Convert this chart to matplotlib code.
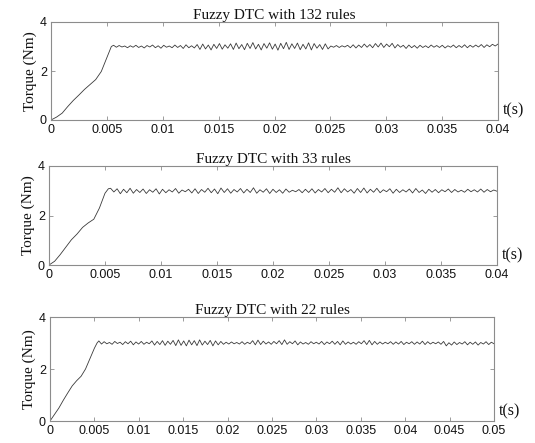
import numpy as np
import matplotlib
matplotlib.use("Agg")
import matplotlib.pyplot as plt

# ---------------- data ----------------
titles = ["Fuzzy DTC with 132 rules", "Fuzzy DTC with 33 rules", "Fuzzy DTC with 22 rules"]
x_max = [0.04, 0.04, 0.05]
x_ticks_1 = [0, 0.005, 0.01, 0.015, 0.02, 0.025, 0.03, 0.035, 0.04]
x_labels_1 = ["0", "0.005", "0.01", "0.015", "0.02", "0.025", "0.03", "0.035", "0.04"]
x_ticks_3 = [0, 0.005, 0.01, 0.015, 0.02, 0.025, 0.03, 0.035, 0.04, 0.045, 0.05]
x_labels_3 = ["0", "0.005", "0.01", "0.015", "0.02", "0.025", "0.03", "0.035", "0.04", "0.045", "0.05"]
y_ticks = [0, 2, 4]
y_labels = ["0", "2", "4"]

# ramp-up part (time, torque)
ramp_t_1 = [0, 0.0005, 0.001, 0.0015, 0.002, 0.0025, 0.003, 0.0035, 0.004, 0.0045, 0.005, 0.0054]
ramp_v_1 = [0, 0.12, 0.28, 0.55, 0.80, 1.02, 1.25, 1.45, 1.65, 1.98, 2.55, 3.00]
ramp_t_2 = [0, 0.0005, 0.001, 0.0015, 0.002, 0.0025, 0.003, 0.0035, 0.004, 0.0045, 0.005, 0.0053]
ramp_v_2 = [0, 0.15, 0.42, 0.72, 1.02, 1.25, 1.52, 1.70, 1.85, 2.30, 2.90, 3.08]
ramp_t_3 = [0, 0.0005, 0.001, 0.0015, 0.002, 0.0025, 0.003, 0.0035, 0.004, 0.0045, 0.005, 0.0053]
ramp_v_3 = [0, 0.25, 0.50, 0.80, 1.08, 1.35, 1.55, 1.72, 2.00, 2.40, 2.80, 3.00]

# steady-state ripple (uniformly sampled from end of ramp to end of axis)
steady_1 = [
    3.05, 2.97, 3.04, 2.98, 3.02, 2.95, 3.03, 2.97, 3.05, 2.96,
    3.02, 2.94, 3.04, 2.98, 3.06, 2.95, 3.03, 2.93, 3.05, 2.97,
    3.02, 2.95, 3.06, 2.96, 3.04, 2.92, 3.07, 2.95, 3.03, 2.94,
    3.08, 2.88, 3.10, 2.90, 3.06, 2.86, 3.09, 2.92, 3.12, 2.89,
    3.07, 2.93, 3.11, 2.88, 3.14, 2.91, 3.08, 2.87, 3.13, 2.92,
    3.16, 2.90, 3.09, 2.86, 3.12, 2.93, 3.15, 2.89, 3.10, 2.85,
    3.13, 2.91, 3.17, 2.88, 3.11, 2.92, 3.14, 2.87, 3.09, 2.90,
    3.15, 2.86, 3.12, 2.93, 3.08, 2.88, 3.11, 2.90,
    3.02, 2.97, 3.04, 2.96, 3.03, 2.98, 3.05, 2.95, 3.07, 2.94,
    3.06, 2.96, 3.10, 2.97, 3.08, 2.95, 3.12, 2.98, 3.14, 2.96,
    3.10, 2.99, 3.13, 2.94, 3.08, 2.97, 3.05, 2.92, 3.06, 2.95,
    3.04, 2.93, 3.05, 2.96, 3.03, 2.95, 3.06, 2.97, 3.04, 2.96,
    3.05, 2.94, 3.03, 2.97, 3.06, 2.95, 3.04, 2.96, 3.07, 2.95,
    3.05, 2.97, 3.06, 2.98, 3.08, 2.96, 3.07, 2.99, 3.09, 3.02, 3.10,
]
steady_2 = [
    3.10, 2.95, 3.08, 2.88, 3.06, 2.92, 3.10, 2.90, 3.05, 2.93,
    3.07, 2.89, 3.04, 2.94, 3.08, 2.87, 3.06, 2.92, 3.04, 2.95,
    3.09, 2.90, 3.03, 2.96, 3.06, 2.91, 3.08, 2.89, 3.05, 2.94,
    3.10, 2.92, 3.07, 2.88, 3.11, 2.93, 3.08, 2.90, 3.05, 2.95,
    3.09, 2.91, 3.06, 2.93, 3.12, 2.90, 3.04, 2.94, 3.08, 2.89,
    3.06, 2.93, 3.04, 2.90, 3.07, 2.94, 3.02, 2.96, 3.05, 2.92,
    3.06, 2.93, 3.08, 2.91, 3.05, 2.95, 3.09, 2.92, 3.06, 2.94,
    3.12, 2.92, 3.08, 2.95, 3.05, 2.90, 3.09, 2.93, 3.11, 2.91,
    3.06, 2.94, 3.10, 2.92, 3.04, 2.96, 3.08, 2.90, 3.06, 2.93,
    3.04, 2.95, 3.07, 2.91, 3.09, 2.93, 3.03, 2.89, 3.06, 2.94,
    3.05, 2.92, 3.04, 2.96, 3.07, 2.93, 3.05, 2.95, 3.02, 2.94,
    3.06, 2.96, 3.04, 2.95, 3.07, 2.94, 3.05, 2.96, 3.03, 2.98,
]
steady_3 = [
    3.08, 2.96, 3.05, 2.97, 3.02, 2.95, 3.06, 2.98, 3.03, 2.94,
    3.05, 2.97, 3.07, 2.93, 3.04, 2.96, 3.06, 2.95, 3.03, 2.97,
    3.08, 2.92, 3.06, 2.94, 3.09, 2.91, 3.07, 2.95, 3.10, 2.90,
    3.12, 2.91, 3.08, 2.89, 3.11, 2.93, 3.09, 2.90, 3.12, 2.92,
    3.07, 2.94, 3.10, 2.89, 3.08, 2.93, 3.06, 2.95, 3.03, 2.96,
    3.04, 2.97, 3.02, 2.96, 3.05, 2.95, 3.03, 2.97, 3.09, 2.93,
    3.11, 2.94, 3.07, 2.96, 3.04, 2.95, 3.06, 2.97, 3.09, 2.94,
    3.12, 2.95, 3.05, 2.97, 3.08, 2.93, 3.04, 2.96, 3.02, 2.95,
    3.05, 2.97, 3.03, 2.96, 3.06, 2.94, 3.04, 2.97, 3.07, 2.95,
    3.06, 2.93, 3.08, 2.95, 3.04, 2.96, 3.03, 2.95, 3.05, 2.97,
    3.09, 2.94, 3.10, 2.93, 3.06, 2.95, 3.04, 2.96, 3.03, 2.97,
    3.05, 2.95, 3.04, 2.96, 3.06, 2.94, 3.03, 2.97, 3.05, 2.95,
    3.04, 2.96, 3.07, 2.94, 3.05, 2.96, 3.03, 2.97, 3.04, 2.95,
    3.06, 2.89, 3.01, 2.92, 3.04, 2.94, 3.02, 2.96, 3.05, 2.93,
    3.03, 2.95, 3.04, 2.92, 3.02, 2.96, 3.05, 2.94, 3.03, 2.97,
]

ramps_t = [ramp_t_1, ramp_t_2, ramp_t_3]
ramps_v = [ramp_v_1, ramp_v_2, ramp_v_3]
steadies = [steady_1, steady_2, steady_3]
xticks_all = [x_ticks_1, x_ticks_1, x_ticks_3]
xlabels_all = [x_labels_1, x_labels_1, x_labels_3]

# ---------------- figure ----------------
W, H = 535, 443
fig = plt.figure(figsize=(W / 100, H / 100), dpi=100)
fig.patch.set_facecolor("white")

# axes boxes in pixels: (left, top, right, bottom)
boxes = [(51, 22, 498, 120), (49, 166, 497, 265), (50, 317, 494, 421)]

serif = ["Liberation Serif", "DejaVu Serif"]
sans = ["Liberation Sans", "DejaVu Sans"]
frame_col = "#8c8c8c"

for i, (l, t, r, b) in enumerate(boxes):
    ax = fig.add_axes([l / W, 1 - b / H, (r - l) / W, (b - t) / H])
    st = steadies[i]
    t_ss = np.linspace(ramps_t[i][-1] + 0.0002, x_max[i], len(st))
    tt = np.concatenate([ramps_t[i], t_ss])
    vv = np.concatenate([ramps_v[i], st])
    ax.plot(tt, vv, color="#3a3a3a", lw=0.6)
    ax.set_xlim(0, x_max[i])
    ax.set_ylim(0, 4)
    ax.set_xticks(xticks_all[i])
    ax.set_xticklabels(xlabels_all[i], fontfamily=sans, fontsize=9)
    ax.set_yticks(y_ticks)
    ax.set_yticklabels(y_labels, fontfamily=sans, fontsize=9)
    ax.tick_params(direction="in", length=3, width=0.6, color=frame_col,
                   top=True, right=True, pad=3, labelcolor="#111111")
    for sp in ax.spines.values():
        sp.set_color(frame_col)
        sp.set_linewidth(0.8)
    ax.set_title(titles[i], fontfamily=serif, fontsize=11, pad=2, color="#111111")
    ax.set_ylabel("Torque (Nm)", fontfamily=serif, fontsize=11, labelpad=2, color="#111111")
    ax.text(1.01, 0.02, "t(s)", transform=ax.transAxes, ha="left", va="bottom",
            fontfamily=serif, fontsize=11.5, color="#111111")

fig.savefig("out.png", dpi=100, facecolor="white")
